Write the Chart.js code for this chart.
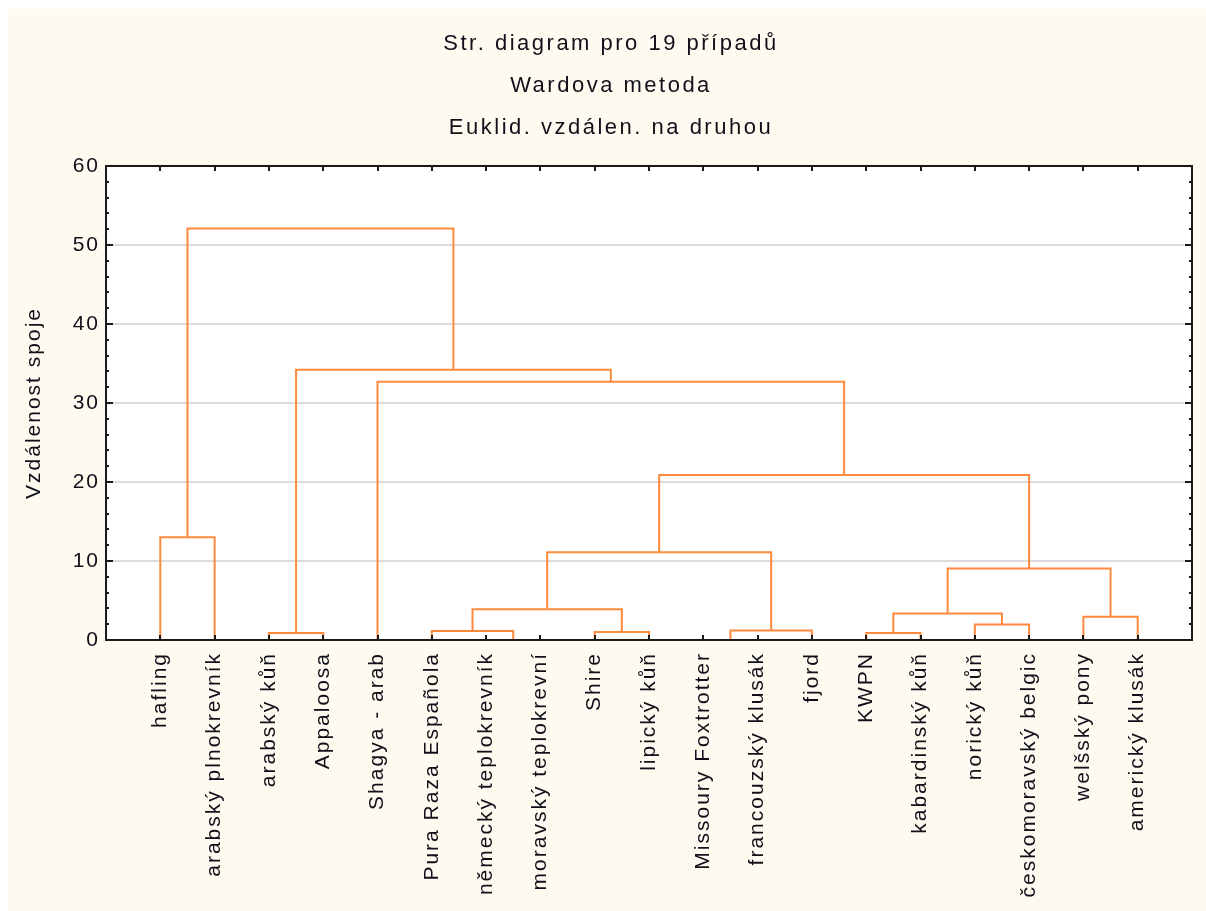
<!DOCTYPE html>
<html><head><meta charset="utf-8">
<script src="https://cdn.jsdelivr.net/npm/chart.js@4.4.1/dist/chart.umd.min.js"></script>
<style>html,body{margin:0;padding:0;background:#fff}</style>
</head><body>
<canvas id="c" width="1206" height="911"></canvas>
<script>
// ---- data ----
const titleLines = ['Str. diagram pro 19 případů', 'Wardova metoda', 'Euklid. vzdálen. na druhou'];
const yAxisTitle = 'Vzdálenost spoje';
const leaves = ['hafling', 'arabský plnokrevník', 'arabský kůň', 'Appaloosa', 'Shagya - arab',
  'Pura Raza Española', 'německý teplokrevník', 'moravský teplokrevní', 'Shire', 'lipický kůň',
  'Missoury Foxtrotter', 'francouzský klusák', 'fjord', 'KWPN', 'kabardinský kůň', 'norický kůň',
  'českomoravský belgic', 'welšský pony', 'americký klusák'];
// merges (node ids: leaves 0..18, merges 19..36)
const mergeLeft   = [6, 10, 2, 13, 8, 5, 20, 15, 17, 22, 24, 28, 29, 0, 31, 4, 21, 32];
const mergeRight  = [7, 11, 3, 14, 9, 19, 12, 16, 18, 26, 23, 27, 25, 1, 30, 33, 34, 35];
const mergeHeight = [0, 0, 0.9, 0.9, 1.0, 1.15, 1.2, 1.95, 2.95, 3.35, 3.9, 9.05, 11.1, 13.0, 20.9, 32.7, 34.2, 52.1];
const yMin = 0, yMax = 60, yStep = 10, yMinorStep = 2;

// ---- styling ----
const FONT = '"Liberation Sans", Arial, sans-serif';
const TEXT = '#10101a';
const LINE = '#ff8a3d';
const CREAM = '#fffaf0';

const nodeX = leaves.map((_, i) => i + 1);
const nodeH = leaves.map(() => 0);
const datasets = [];
mergeLeft.forEach((l, k) => {
  const r = mergeRight[k], h = mergeHeight[k];
  const xl = nodeX[l], xr = nodeX[r];
  datasets.push({
    data: [{x: xl, y: nodeH[l]}, {x: xl, y: h}, {x: xr, y: h}, {x: xr, y: nodeH[r]}],
    showLine: true, borderColor: LINE, borderWidth: 2, pointRadius: 0, fill: false, tension: 0
  });
  nodeX.push((xl + xr) / 2);
  nodeH.push(h);
});

const bgPlugin = {
  id: 'bg',
  beforeDraw(chart) {
    const {ctx, width, height, chartArea: a} = chart;
    ctx.save();
    ctx.fillStyle = '#ffffff';
    ctx.fillRect(0, 0, width, height);
    ctx.fillStyle = CREAM;
    ctx.fillRect(8, 9, width - 8, height - 9);
    ctx.fillStyle = '#ffffff';
    ctx.fillRect(a.left, a.top, a.right - a.left, a.bottom - a.top);
    ctx.restore();
  }
};

const framePlugin = {
  id: 'frame',
  afterDatasetsDraw(chart) {
    const {ctx, chartArea: a, scales} = chart;
    ctx.save();
    ctx.strokeStyle = '#1a1a1a';
    ctx.lineWidth = 2;
    ctx.strokeRect(a.left, a.top, a.right - a.left, a.bottom - a.top);
    ctx.beginPath();
    for (let v = yMin; v <= yMax; v += yMinorStep) {
      const y = Math.round(scales.y.getPixelForValue(v));
      const len = (v % yStep === 0) ? 7 : 3;
      ctx.moveTo(a.left, y); ctx.lineTo(a.left + len, y);
      ctx.moveTo(a.right, y); ctx.lineTo(a.right - len, y);
    }
    leaves.forEach((_, i) => {
      const x = Math.round(scales.x.getPixelForValue(i + 1));
      ctx.moveTo(x, a.bottom); ctx.lineTo(x, a.bottom - 5);
      ctx.moveTo(x, a.top); ctx.lineTo(x, a.top + 5);
    });
    ctx.stroke();
    ctx.restore();
  }
};

function wrapSpacing(obj, method, spacing, dx) {
  if (!obj || obj['_w_' + method]) return;
  const orig = obj[method];
  obj[method] = function (...args) {
    const c = this.ctx || (this.chart && this.chart.ctx);
    c.save();
    c.letterSpacing = spacing;
    if (dx) c.translate(dx, 0);
    const r = orig.apply(this, args);
    c.restore();
    return r;
  };
  obj['_w_' + method] = true;
}
const spacingPlugin = {
  id: 'spacing',
  afterLayout(chart) {
    wrapSpacing(chart.scales.x, 'drawLabels', '2px');
    wrapSpacing(chart.scales.y, 'drawLabels', '2px');
    wrapSpacing(chart.scales.y, 'drawTitle', '2px');
    if (chart.titleBlock) wrapSpacing(chart.titleBlock, 'draw', '2.5px', 15);
  }
};

new Chart(document.getElementById('c'), {
  type: 'scatter',
  data: {datasets},
  options: {
    responsive: false,
    animation: false,
    events: [],
    layout: {padding: {left: 0, right: 14, top: 0, bottom: 0}},
    plugins: {
      legend: {display: false},
      tooltip: {enabled: false},
      title: {
        display: true, text: titleLines, color: TEXT,
        font: {family: FONT, size: 22, weight: 'normal', lineHeight: 1.909},
        padding: {top: 23, bottom: 17}
      }
    },
    scales: {
      x: {
        type: 'linear', min: 0, max: leaves.length + 1,
        afterBuildTicks: s => { s.ticks = leaves.map((_, i) => ({value: i + 1})); },
        afterFit: s => { s.height = 271; },
        grid: {display: false, drawTicks: false},
        border: {display: false},
        ticks: {
          autoSkip: false, minRotation: 90, maxRotation: 90, padding: 12,
          color: TEXT, font: {family: FONT, size: 21},
          callback: v => leaves[v - 1] ?? ''
        }
      },
      y: {
        type: 'linear', min: yMin, max: yMax,
        afterFit: s => { s.width = 106; },
        grid: {color: '#dcdcdc', lineWidth: 2, drawTicks: false},
        border: {display: false},
        ticks: {stepSize: yStep, padding: 6, color: TEXT, font: {family: FONT, size: 21}},
        title: {
          display: true, text: yAxisTitle, color: TEXT,
          font: {family: FONT, size: 21}, padding: {top: 22, bottom: 0}
        }
      }
    }
  },
  plugins: [bgPlugin, framePlugin, spacingPlugin]
});
</script>
</body></html>
